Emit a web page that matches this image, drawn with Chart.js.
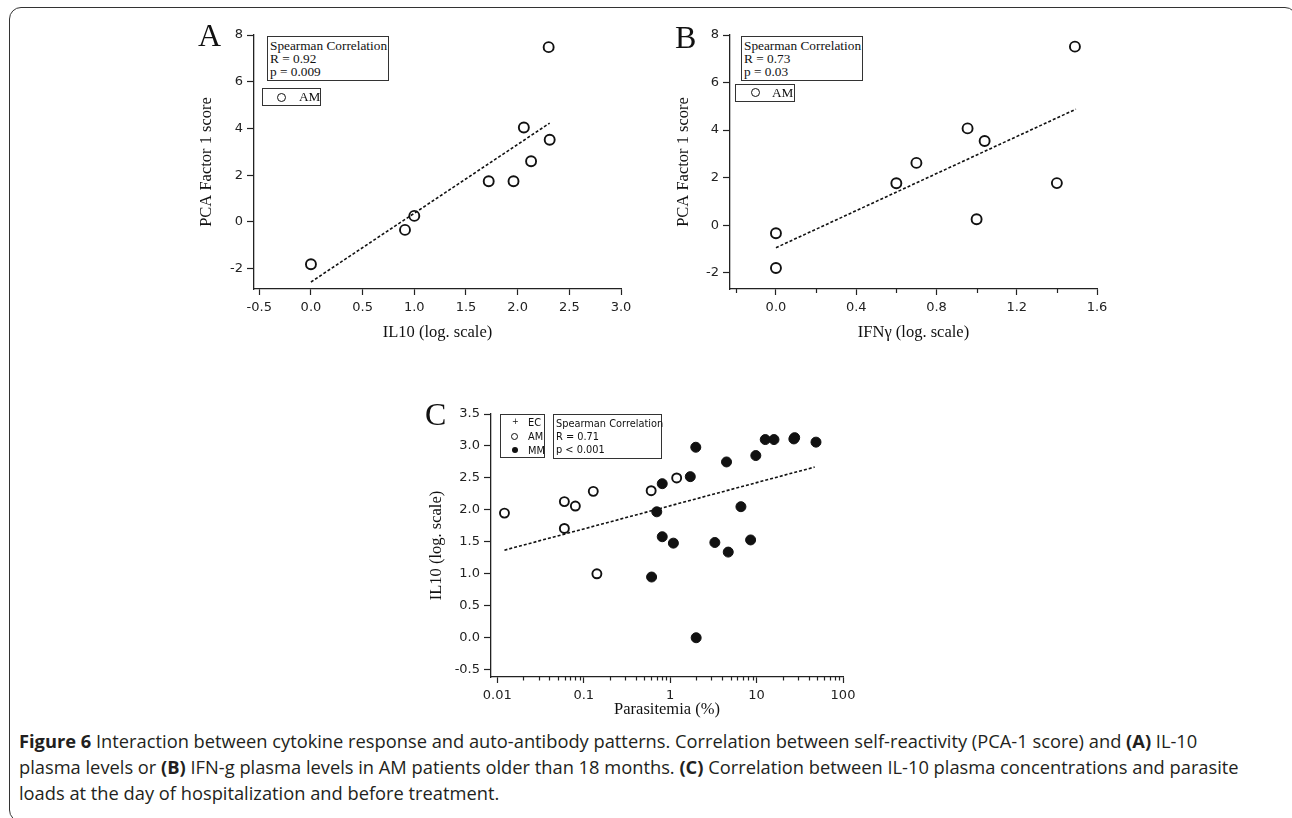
<!DOCTYPE html>
<html>
<head>
<meta charset="utf-8">
<script src="https://cdn.jsdelivr.net/npm/chart.js@4.4.1/dist/chart.umd.min.js"></script>
<style>
  body { margin: 0; width: 1292px; height: 818px; overflow: hidden; background: #fff; position: relative; color: #111; }
  canvas { position: absolute; }
  .frame { position: absolute; left: 9px; top: 7px; width: 1288px; height: 815px; box-sizing: border-box;
           border: 1.6px solid #333; border-radius: 12px; }
  .lbl { position: absolute; font: 32px/1 'Liberation Serif', serif; }
  .box { position: absolute; box-sizing: border-box; border: 1px solid #333; background: #fff; white-space: nowrap; }
  .serif { font: 13.3px/13.4px 'Liberation Serif', serif; }
  .sans { font: 9.8px/13.4px 'DejaVu Sans', sans-serif; }
  .ring { position: absolute; width: 9px; height: 9px; box-sizing: border-box; border: 1.8px solid #111; border-radius: 50%; }
  .dot { position: absolute; width: 7px; height: 7px; background: #111; border-radius: 50%; }
  .cap { position: absolute; left: 19px; top: 728px; font: 18.3px/26px 'Open Sans', sans-serif; color: #231f20; white-space: nowrap; }
  .cap b { font-weight: 700; }
</style>
</head>
<body>
<div class="frame"></div>

<canvas id="chartA"></canvas>
<canvas id="chartB"></canvas>
<canvas id="chartC"></canvas>

<div class="lbl" style="left:198px;top:19px">A</div>
<div class="lbl" style="left:675px;top:21px">B</div>
<div class="lbl" style="left:425px;top:398px">C</div>

<!-- panel A boxes -->
<div class="box serif" style="left:267px;top:36px;width:122px;height:45px;padding:1.6px 0 0 2px">Spearman Correlation<br>R = 0.92<br>p = 0.009</div>
<div class="box serif" style="left:262px;top:88px;width:59px;height:18px">
  <span class="ring" style="left:14px;top:3.5px"></span><span style="position:absolute;left:36px;top:1px">AM</span>
</div>

<!-- panel B boxes -->
<div class="box serif" style="left:741px;top:36px;width:122px;height:45px;padding:1.6px 0 0 2px">Spearman Correlation<br>R = 0.73<br>p = 0.03</div>
<div class="box serif" style="left:735px;top:84px;width:60px;height:18px">
  <span class="ring" style="left:14.5px;top:3px"></span><span style="position:absolute;left:36px;top:1px">AM</span>
</div>

<!-- panel C boxes -->
<div class="box sans" style="left:500px;top:414px;width:45px;height:44px">
  <span style="position:absolute;left:11px;top:0px;font-size:8px">+</span><span style="position:absolute;left:27px;top:1px">EC</span>
  <span class="ring" style="left:10px;top:18px;width:7px;height:7px;border-width:1.5px"></span><span style="position:absolute;left:27px;top:15px">AM</span>
  <span class="dot" style="left:10.5px;top:31.5px;width:6px;height:6px"></span><span style="position:absolute;left:27px;top:28.5px">MM</span>
</div>
<div class="box sans" style="left:553px;top:414px;width:109px;height:45px;padding:1.6px 0 0 2px">Spearman Correlation<br>R = 0.71<br>p &lt; 0.001</div>

<div class="cap">
  <b>Figure 6</b> Interaction between cytokine response and auto-antibody patterns. Correlation between self-reactivity (PCA-1 score) and <b>(A)</b> IL-10<br>
  plasma levels or <b>(B)</b> IFN-g plasma levels in AM patients older than 18 months. <b>(C)</b> Correlation between IL-10 plasma concentrations and parasite<br>
  loads at the day of hospitalization and before treatment.
</div>

<script>
// Panel A: IL10 vs PCA factor 1 (AM)
const aIL10 = [0.0, 0.91, 1.0, 1.72, 1.96, 2.06, 2.13, 2.30, 2.31];
const aPCA  = [-1.81, -0.34, 0.26, 1.74, 1.74, 4.04, 2.60, 7.48, 3.52];
const aFitX = [0.0, 2.31];
const aFitY = [-2.57, 4.23];
const aXTicks = [-0.5, 0.0, 0.5, 1.0, 1.5, 2.0, 2.5, 3.0];
const aYTicks = [-2, 0, 2, 4, 6, 8];

// Panel B: IFNg vs PCA factor 1 (AM)
const bIFNg = [0.0, 0.0, 0.60, 0.70, 0.955, 1.04, 1.0, 1.40, 1.49];
const bPCA  = [-0.34, -1.80, 1.76, 2.62, 4.07, 3.54, 0.25, 1.77, 7.51];
const bFitX = [0.0, 1.495];
const bFitY = [-0.95, 4.88];
const bXTicks = [0.0, 0.4, 0.8, 1.2, 1.6];
const bXMinor = [-0.2, 0.2, 0.6, 1.0, 1.4];
const bYTicks = [-2, 0, 2, 4, 6, 8];

// Panel C: parasitemia vs IL10
const cAMPara = [0.0121, 0.0597, 0.0597, 0.080, 0.129, 0.142, 0.603, 1.19];
const cAMIL10 = [1.95, 2.13, 1.71, 2.06, 2.29, 1.00, 2.30, 2.50];
const cMMPara = [1.98, 4.49, 9.8, 12.6, 15.9, 27.6, 27.0, 48.7, 1.71, 0.81, 0.70, 6.59, 0.81, 1.09, 3.29, 4.70, 8.53, 0.61, 2.0];
const cMMIL10 = [2.98, 2.75, 2.85, 3.10, 3.10, 3.13, 3.11, 3.06, 2.52, 2.41, 1.97, 2.05, 1.58, 1.48, 1.49, 1.34, 1.53, 0.95, 0.0];
const cFitX = [0.0121, 47];
const cFitY = [1.37, 2.67];
const cXTicks = [0.01, 0.1, 1, 10, 100];
const cYTicks = [-0.5, 0.0, 0.5, 1.0, 1.5, 2.0, 2.5, 3.0, 3.5];

const zip = (xs, ys) => xs.map((x, i) => ({ x: x, y: ys[i] }));

// short unlabeled tick marks under the x axis
const minorTicks = {
    id: 'minorTicks',
    afterDraw(chart, args, opts) {
        if (!opts.values) return;
        const x = chart.scales.x, ctx = chart.ctx;
        ctx.save();
        ctx.strokeStyle = '#222';
        ctx.lineWidth = 1.2;
        opts.values.forEach(v => {
            const px = Math.round(x.getPixelForValue(v)) + 0.5;
            ctx.beginPath();
            ctx.moveTo(px, x.top);
            ctx.lineTo(px, x.top + opts.length);
            ctx.stroke();
        });
        ctx.restore();
    }
};

// place the canvas so the plot area lands on the given page box
function setup(id, area, canvasLeft, canvasBottom) {
    const c = document.getElementById(id);
    const top = area.top - 15;
    c.width = area.right + 15 - canvasLeft;
    c.height = canvasBottom - top;
    c.style.left = canvasLeft + 'px';
    c.style.top = top + 'px';
    return { yWidth: area.left - canvasLeft, xHeight: canvasBottom - area.bottom };
}

function axis(type, min, max, ticks, fmt, size, title) {
    return {
        type: type, min: min, max: max,
        afterBuildTicks: s => { s.ticks = ticks.map(v => ({ value: v })); },
        afterFit: s => {
            if (size.w) s.width = size.w;
            if (size.h) s.height = size.h;
            s.paddingLeft = s.paddingRight = s.paddingTop = s.paddingBottom = 0;
        },
        border: { display: true, color: '#222', width: 1.3 },
        grid: { drawOnChartArea: false, drawTicks: true, tickLength: size.w ? 7 : 6, tickColor: '#222', tickWidth: 1.2 },
        ticks: { color: '#222', font: { family: "'DejaVu Sans', sans-serif", size: 13 }, padding: size.w ? 4 : 5, callback: fmt, autoSkip: false, maxRotation: 0 },
        title: { display: true, text: title, color: '#111', font: { family: "'Liberation Serif', serif", size: 16.5, lineHeight: 1.2 }, padding: { top: 3, bottom: 3 } }
    };
}

const openPts = { pointStyle: 'circle', pointRadius: 5, pointBorderWidth: 1.9, pointBorderColor: '#111', pointBackgroundColor: 'rgba(0,0,0,0)', showLine: false, clip: false };
const fitLine = { showLine: true, borderDash: [3, 2], borderWidth: 1.6, borderColor: '#111', pointRadius: 0, clip: false };
const base = { responsive: false, animation: false, layout: { padding: { top: 15, right: 15 } } };

// 1. Panel A
const szA = setup('chartA', { left: 254, top: 35, right: 621, bottom: 289 }, 194, 346);
new Chart(document.getElementById('chartA'), {
    type: 'scatter',
    data: {
        datasets: [
            Object.assign({ label: 'AM', data: zip(aIL10, aPCA) }, openPts),
            Object.assign({ label: 'fit', data: zip(aFitX, aFitY) }, fitLine)
        ]
    },
    options: Object.assign({}, base, {
        plugins: { legend: { display: false }, tooltip: { enabled: false } },
        scales: {
            x: axis('linear', -0.551, 3.0, aXTicks, v => v.toFixed(1), { h: szA.xHeight }, 'IL10 (log. scale)'),
            y: axis('linear', -2.869, 8, aYTicks, v => String(v), { w: szA.yWidth }, 'PCA Factor 1 score')
        }
    })
});

// 2. Panel B
const szB = setup('chartB', { left: 730, top: 35, right: 1097, bottom: 289 }, 671, 346);
new Chart(document.getElementById('chartB'), {
    type: 'scatter',
    data: {
        datasets: [
            Object.assign({ label: 'AM', data: zip(bIFNg, bPCA) }, openPts),
            Object.assign({ label: 'fit', data: zip(bFitX, bFitY) }, fitLine)
        ]
    },
    options: Object.assign({}, base, {
        plugins: { legend: { display: false }, tooltip: { enabled: false }, minorTicks: { values: bXMinor, length: 4 } },
        scales: {
            x: axis('linear', -0.229, 1.6, bXTicks, v => v.toFixed(1), { h: szB.xHeight }, 'IFNγ (log. scale)'),
            y: axis('linear', -2.686, 8, bYTicks, v => String(v), { w: szB.yWidth }, 'PCA Factor 1 score')
        }
    }),
    plugins: [minorTicks]
});

// 3. Panel C (log x)
const cMinor = [];
cXTicks.slice(0, -1).forEach(d => { for (let k = 2; k <= 9; k++) cMinor.push(d * k); });
const szC = setup('chartC', { left: 491, top: 414, right: 843, bottom: 677 }, 424, 723);
new Chart(document.getElementById('chartC'), {
    type: 'scatter',
    data: {
        datasets: [
            Object.assign({ label: 'AM', data: zip(cAMPara, cAMIL10) }, openPts, { pointRadius: 4.5 }),
            Object.assign({ label: 'MM', data: zip(cMMPara, cMMIL10) }, openPts, { pointRadius: 5, pointBackgroundColor: '#111', pointBorderWidth: 1 }),
            Object.assign({ label: 'fit', data: zip(cFitX, cFitY) }, fitLine)
        ]
    },
    options: Object.assign({}, base, {
        plugins: { legend: { display: false }, tooltip: { enabled: false }, minorTicks: { values: cMinor, length: 3.5 } },
        scales: {
            x: axis('logarithmic', 0.008455, 100, cXTicks, v => String(v), { h: szC.xHeight }, 'Parasitemia (%)'),
            y: axis('linear', -0.614, 3.5, cYTicks, v => v.toFixed(1), { w: szC.yWidth }, 'IL10 (log. scale)')
        }
    }),
    plugins: [minorTicks]
});
</script>
</body>
</html>
